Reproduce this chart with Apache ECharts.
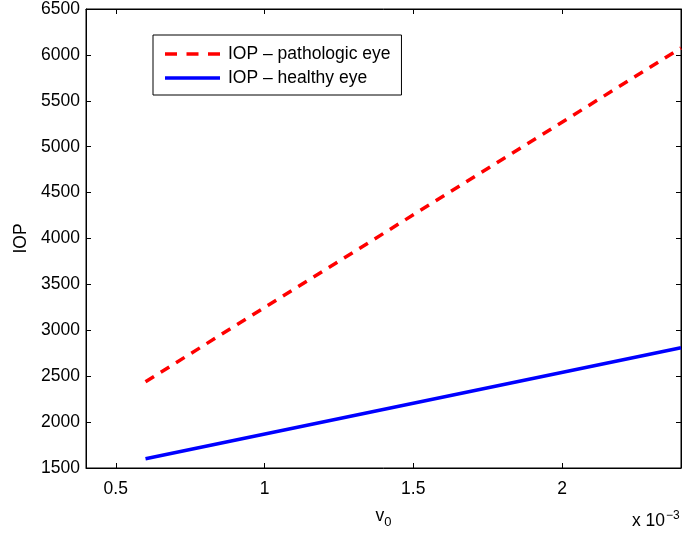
<!DOCTYPE html>
<html>
<head>
<meta charset="utf-8">
<script src="https://cdn.jsdelivr.net/npm/echarts@6/dist/echarts.min.js"></script>
<style>
html,body{margin:0;padding:0;background:#fff;}
#chart{width:683px;height:534px;}
</style>
</head>
<body>
<div id="chart"></div>
<script>
// x values in units of 1e-3
const xValues = [0.6, 2.4];
const pathologic = [2440, 6075];
const healthy = [1600, 2810];
const xTicks = [0.5, 1, 1.5, 2];
const seriesNames = ['IOP \u2013 pathologic eye', 'IOP \u2013 healthy eye'];

const font = 'Liberation Sans, Arial, Helvetica, sans-serif';
const FS = 17.5;
const chart = echarts.init(document.getElementById('chart'), null, {renderer: 'canvas'});

const tickStyle = {show: true, inside: true, length: 5, lineStyle: {color: '#000', width: 1}};
const dashIcon = 'path://M0 0h12v3.5h-12zM21.5 0h12v3.5h-12zM43 0h12v3.5h-12z';
const solidIcon = 'path://M0 0h55v3.5h-55z';

chart.setOption({
  animation: false,
  backgroundColor: '#fff',
  grid: {left: 86, right: 2, top: 8, bottom: 62, show: true, borderColor: '#000', borderWidth: 1, backgroundColor: 'transparent'},
  legend: {
    orient: 'vertical',
    left: 153, top: 35,
    padding: [10, 11, 8, 12],
    itemWidth: 55, itemHeight: 3.5, itemGap: 6,
    borderColor: '#000', borderWidth: 1,
    backgroundColor: '#fff',
    textStyle: {fontFamily: font, fontSize: FS, color: '#000', padding: [0, 0, 0, 3]},
    data: [{name: seriesNames[0], icon: dashIcon}, {name: seriesNames[1], icon: solidIcon}]
  },
  xAxis: [{
    type: 'value', min: 0.4, max: 2.4,
    axisLine: {show: true, lineStyle: {color: '#000'}},
    splitLine: {show: false},
    axisTick: Object.assign({customValues: xTicks}, tickStyle),
    axisLabel: {customValues: xTicks, margin: 12, fontFamily: font, fontSize: FS, color: '#000',
      formatter: v => String(v)},
    name: '{v|v}{s|0}', nameLocation: 'middle', nameGap: 36,
    nameTextStyle: {rich: {v: {fontFamily: font, fontSize: FS, color: '#000'}, s: {fontFamily: font, fontSize: 13, color: '#000', verticalAlign: 'bottom', padding: [12, 0, 0, 0]}}}
  }, {
    type: 'value', min: 0.4, max: 2.4, position: 'top',
    axisLine: {show: true, lineStyle: {color: '#000'}},
    splitLine: {show: false},
    axisTick: Object.assign({customValues: xTicks}, tickStyle),
    axisLabel: {show: false}
  }],
  yAxis: [{
    type: 'value', min: 1500, max: 6500, interval: 500,
    axisLine: {show: true, lineStyle: {color: '#000'}},
    splitLine: {show: false},
    axisTick: tickStyle,
    axisLabel: {margin: 6, fontFamily: font, fontSize: FS, color: '#000', formatter: v => String(v)},
    name: 'IOP', nameLocation: 'middle', nameGap: 56, nameRotate: 90,
    nameTextStyle: {fontFamily: font, fontSize: FS, color: '#000'}
  }, {
    type: 'value', min: 1500, max: 6500, interval: 500, position: 'right',
    axisLine: {show: true, lineStyle: {color: '#000'}},
    splitLine: {show: false},
    axisTick: tickStyle,
    axisLabel: {show: false}
  }],
  series: [{
    name: seriesNames[0], type: 'line', symbol: 'none',
    data: xValues.map((x, i) => [x, pathologic[i]]),
    lineStyle: {color: '#ff0000', width: 3.5, type: [10, 8]},
    itemStyle: {color: '#ff0000'}
  }, {
    name: seriesNames[1], type: 'line', symbol: 'none',
    data: xValues.map((x, i) => [x, healthy[i]]),
    lineStyle: {color: '#0000ff', width: 3.5, type: 'solid'},
    itemStyle: {color: '#0000ff'}
  }],
  graphic: [{
    type: 'text', left: 632, top: 510,
    style: {text: '{a|x 10}{b|\u22123}', rich: {a: {fontFamily: font, fontSize: FS, fill: '#000'}, b: {fontFamily: font, fontSize: 12, fill: '#000', verticalAlign: 'top', padding: [0, 0, 11, 1]}}}
  }]
});
</script>
</body>
</html>
